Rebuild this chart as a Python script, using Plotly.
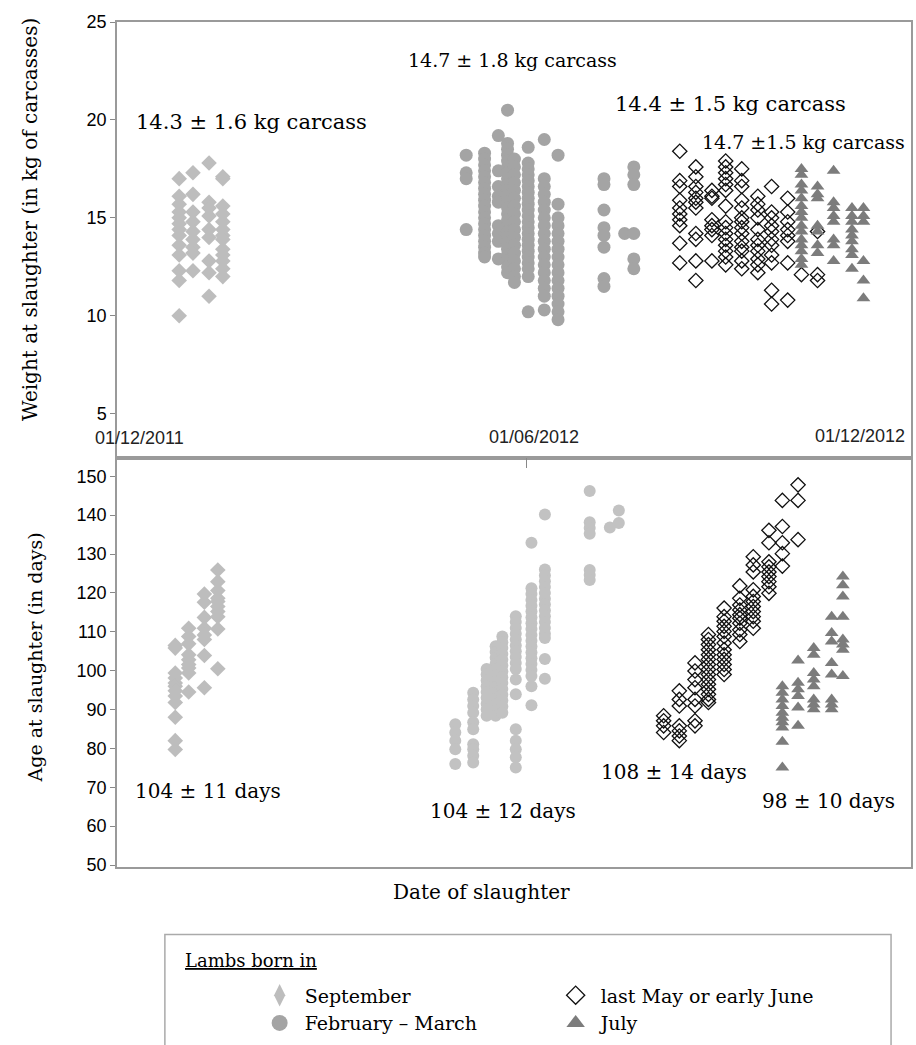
import plotly.graph_objects as go

# ---------------- data ----------------
group_names = ["September", "February – March", "last May or early June", "July"]

sep_dates = ["2011-12-27", "2012-01-02", "2012-01-09", "2012-01-15"]
sep_weight = [
    [17.0, 16.1, 15.7, 15.3, 15.0, 14.7, 14.4, 14.1, 13.6, 13.1, 12.3, 11.8, 10.0],
    [17.3, 16.2, 15.3, 14.8, 14.3, 13.9, 13.5, 13.2, 12.3],
    [17.8, 15.8, 15.5, 15.1, 14.4, 14.0, 12.8, 12.2, 11.0],
    [17.1, 17.0, 15.6, 15.2, 14.8, 14.4, 14.1, 13.9, 13.4, 13.1, 12.8, 12.4, 12.0],
]
sep_age = [
    [106.5, 105.8, 99.4, 98.1, 96.8, 96.0, 94.8, 93.5, 91.8, 88.0, 82.0, 79.7],
    [110.9, 108.8, 106.9, 104.1, 102.8, 101.6, 100.7, 99.4, 94.5],
    [119.7, 117.6, 113.7, 110.9, 109.2, 108.0, 103.9, 95.6],
    [125.9, 122.9, 120.6, 118.6, 117.8, 116.5, 115.2, 113.9, 110.7, 100.5],
]

feb_dates = ["2012-04-30", "2012-05-08", "2012-05-14", "2012-05-18", "2012-05-21", "2012-05-27",
             "2012-06-03", "2012-06-09", "2012-06-29", "2012-07-08", "2012-07-12"]
feb_weight = [
    [18.2, 17.3, 17.0, 14.4],
    [18.3, 18.0, 17.7, 17.4, 17.1, 16.8, 16.5, 16.2, 15.9, 15.6, 15.3, 15.0, 14.7, 14.4, 14.1, 13.8, 13.5, 13.2, 13.0],
    [19.2, 17.4, 16.6, 16.1, 15.8, 14.6, 14.2, 13.8, 12.9],
    [20.5, 18.8, 18.5, 18.2, 17.9, 17.6, 17.3, 17.0, 16.7, 16.4, 16.1, 15.8, 15.5, 15.2, 14.9, 14.6, 14.3, 14.0, 13.7, 13.4, 13.1, 12.8, 12.5, 12.2],
    [18.0, 17.6, 17.2, 16.8, 16.4, 16.0, 15.6, 15.2, 14.8, 14.4, 14.0, 13.6, 13.2, 12.8, 12.4, 12.0, 11.7],
    [18.6, 17.8, 17.5, 17.2, 16.9, 16.6, 16.3, 16.0, 15.7, 15.4, 15.1, 14.8, 14.5, 14.2, 13.9, 13.6, 13.3, 13.0, 12.7, 12.4, 12.0, 10.2],
    [19.0, 17.0, 16.6, 16.2, 15.8, 15.4, 15.0, 14.6, 14.2, 13.8, 13.4, 13.0, 12.6, 12.2, 11.8, 11.4, 11.0, 10.3],
    [18.2, 15.7, 15.0, 14.6, 14.2, 13.8, 13.4, 13.0, 12.6, 12.2, 11.8, 11.4, 11.0, 10.6, 10.2, 9.8],
    [17.0, 16.7, 15.4, 14.5, 14.1, 13.5, 11.9, 11.5],
    [14.2],
    [17.6, 17.2, 16.7, 14.2, 12.9, 12.4],
]
feb_age = [
    [86.2, 84.1, 82.0, 79.8, 76.0],
    [94.3, 92.6, 90.9, 89.2, 86.7, 84.9, 81.1, 79.8, 78.1, 76.4],
    [100.4, 99.0, 97.5, 96.0, 94.5, 93.0, 91.5, 90.0, 88.4],
    [106.3, 104.8, 103.3, 101.8, 100.3, 98.8, 97.3, 95.8, 94.3, 92.8, 91.3, 89.8, 88.4],
    [108.8, 107.3, 105.8, 104.3, 102.8, 101.3, 99.8, 98.3, 96.8, 95.3, 93.8, 92.3, 90.8, 89.2],
    [114.0, 112.5, 111.0, 109.5, 108.0, 106.5, 105.0, 103.5, 102.0, 100.4, 97.7, 93.9, 84.9, 82.0, 79.8, 77.7, 75.1],
    [132.9, 121.2, 119.7, 118.2, 116.7, 115.2, 113.7, 112.2, 110.7, 109.2, 107.7, 106.2, 104.7, 103.2, 101.7, 100.2, 98.6, 96.0, 91.1],
    [140.2, 126.0, 124.5, 123.0, 121.5, 120.0, 118.5, 117.0, 115.5, 114.0, 112.5, 111.0, 109.5, 108.4, 103.0, 97.9],
    [146.2, 138.2, 136.7, 135.2, 125.9, 124.6, 123.3],
    [136.8],
    [141.2, 138.0],
]

may_dates = ["2012-08-01", "2012-08-08", "2012-08-15", "2012-08-21", "2012-08-28",
             "2012-09-04", "2012-09-10", "2012-09-17", "2012-09-23", "2012-09-30"]
may_weight = [
    [18.4, 16.9, 16.6, 15.9, 15.5, 15.2, 14.9, 14.6, 13.7, 12.7],
    [17.6, 17.1, 16.6, 16.3, 16.0, 15.8, 15.5, 14.2, 13.9, 12.8, 11.8],
    [16.4, 16.1, 16.0, 14.9, 14.6, 14.4, 14.1, 12.8],
    [17.9, 17.6, 17.3, 17.0, 16.7, 16.4, 15.6, 14.8, 14.5, 14.2, 13.9, 13.6, 13.3, 13.0, 12.6],
    [17.5, 16.9, 16.6, 15.9, 15.5, 15.0, 14.8, 14.5, 14.2, 13.8, 13.5, 13.3, 12.8, 12.4],
    [16.1, 15.7, 15.4, 15.0, 14.4, 13.9, 13.6, 13.3, 12.9, 12.6, 12.2],
    [16.6, 15.3, 15.0, 14.6, 14.3, 13.9, 13.6, 13.1, 12.7, 11.3, 10.6],
    [16.0, 15.3, 14.8, 14.4, 14.1, 13.8, 12.7, 10.8],
    [12.1],
    [14.3, 12.1, 11.8],
]
may_age = [
    [88.4, 87.1, 85.8, 84.1],
    [94.8, 92.6, 90.9, 85.8, 84.5, 83.2, 82.0],
    [102.0, 99.9, 97.7, 95.6, 92.6, 90.9, 87.1, 85.8],
    [109.3, 108.0, 106.7, 105.4, 104.1, 102.9, 101.6, 100.3, 99.0, 97.7, 96.5, 95.2, 93.9, 92.6, 91.8],
    [116.1, 113.9, 112.7, 111.4, 110.1, 108.8, 107.1, 105.4, 104.1, 102.9, 101.6, 100.3, 99.0],
    [121.8, 118.6, 116.9, 115.6, 114.4, 113.5, 112.2, 110.5, 109.3, 107.5],
    [129.3, 127.2, 125.4, 120.8, 119.1, 117.8, 116.5, 115.2, 113.9, 112.7, 110.9],
    [136.1, 132.9, 128.0, 126.7, 125.4, 124.2, 122.9, 121.6, 119.9],
    [143.8, 137.1, 132.9, 130.1, 126.9],
    [147.8, 143.8, 133.7],
]

jul_dates = ["2012-09-23", "2012-09-30", "2012-10-07", "2012-10-15", "2012-10-20"]
jul_weight = [
    [17.5, 17.2, 16.7, 16.4, 16.0, 15.6, 15.3, 15.0, 14.6, 14.3, 13.9, 13.6, 13.3, 12.9, 12.6],
    [16.6, 16.2, 16.0, 14.6, 14.3, 13.6, 13.2],
    [17.4, 15.8, 15.5, 15.1, 14.8, 13.9, 13.6, 12.8],
    [15.5, 15.1, 14.8, 14.4, 14.1, 13.8, 13.4, 13.1, 12.4],
    [15.5, 15.1, 14.8, 12.8, 11.8, 10.9],
]
jul_age = [
    [96.0, 94.3, 92.6, 90.9, 89.2, 87.9, 86.7, 85.4, 81.7, 75.1],
    [102.6, 96.9, 95.2, 93.5, 90.5, 85.8],
    [105.8, 104.1, 99.4, 97.7, 96.0, 92.6, 91.3, 90.1],
    [113.9, 109.7, 107.5, 102.0, 99.0, 92.6, 91.3, 90.1],
    [124.2, 122.0, 119.1, 113.9, 108.0, 106.7, 105.4, 98.6],
]

weight_labels = ["14.3 ± 1.6 kg carcass", "14.7 ± 1.8 kg carcass",
                 "14.4 ± 1.5 kg carcass", "14.7 ±1.5 kg carcass"]
age_labels = ["104 ± 11 days", "104 ± 12 days", "108 ± 14 days", "98 ± 10 days"]
date_tick_labels = ["01/12/2011", "01/06/2012", "01/12/2012"]
weight_ticks = [5, 10, 15, 20, 25]
age_ticks = [50, 60, 70, 80, 90, 100, 110, 120, 130, 140, 150]

# ---------------- layout helpers (pixels -> paper) ----------------
W, H = 916, 1045
L, R, T, B = 117, 3, 22, 173
PW, PH = W - L - R, H - T - B


def fx(px):
    return (px - L) / PW


def fy(py):
    return (H - B - py) / PH


def flat(dates, groups):
    xs, ys = [], []
    for d, vals in zip(dates, groups):
        for v in vals:
            xs.append(d)
            ys.append(v)
    return xs, ys


SERIF = "DejaVu Serif"
SANS = "Liberation Sans"

styles = {
    "sep": dict(symbol="diamond", size=12, color="#bdbdbd"),
    "feb_top": dict(symbol="circle", size=13, color="#a4a4a4"),
    "feb_bot": dict(symbol="circle", size=12, color="#c2c2c2"),
    "may": dict(symbol="diamond-open", size=11, color="#111111", line=dict(width=1.3, color="#111111")),
    "jul": dict(symbol="triangle-up", size=12, color="#7c7c7c"),
}
legend_styles = {
    "sep": dict(symbol="diamond-tall", size=16, color="#bdbdbd"),
    "feb_top": dict(symbol="circle", size=16, color="#a4a4a4"),
    "may": dict(symbol="diamond-open", size=14, color="#111111", line=dict(width=1.3, color="#111111")),
    "jul": dict(symbol="triangle-up", size=16, color="#7c7c7c"),
}

fig = go.Figure()

series = [
    ("sep", "sep", sep_dates, sep_weight, sep_age, group_names[0], 1),
    ("feb_top", "feb_bot", feb_dates, feb_weight, feb_age, group_names[1], 3),
    ("may", "may", may_dates, may_weight, may_age, group_names[2], 2),
    ("jul", "jul", jul_dates, jul_weight, jul_age, group_names[3], 4),
]
for st_top, st_bot, dates, wts, ages, name, rank in series:
    x, y = flat(dates, wts)
    fig.add_trace(go.Scatter(x=x, y=y, mode="markers", marker=styles[st_top], name=name,
                             legendgroup=name, xaxis="x", yaxis="y", showlegend=False))
    x2, y2 = flat(dates, ages)
    fig.add_trace(go.Scatter(x=x2, y=y2, mode="markers", marker=styles[st_bot], name=name,
                             legendgroup=name, xaxis="x2", yaxis="y2", showlegend=False))
    # legend entry only (larger symbol, as in the printed key)
    fig.add_trace(go.Scatter(x=[None], y=[None], mode="markers", marker=legend_styles[st_top],
                             name=name, legendgroup=name, legendrank=rank,
                             xaxis="x", yaxis="y", showlegend=True))

split = fy(461)
axis_line = dict(showline=True, linecolor="#9a9a9a", linewidth=1.5, mirror=True,
                 showgrid=False, zeroline=False)

fig.update_layout(
    width=W, height=H,
    margin=dict(l=L, r=R, t=T, b=B),
    paper_bgcolor="white", plot_bgcolor="white",
    showlegend=True,
    xaxis=dict(type="date", domain=[0, 1], anchor="y",
               range=["2011-11-29 22:00", "2012-11-09 17:00"],
               showticklabels=False, ticks="", **axis_line),
    yaxis=dict(domain=[split, 1], anchor="x", range=[2.716, 25],
               tickvals=weight_ticks, ticks="outside", ticklen=5, tickcolor="#888",
               tickfont=dict(family=SANS, size=18, color="black"),
               **axis_line),
    xaxis2=dict(type="date", domain=[0, 1], anchor="y2", side="top",
                range=["2011-12-01", "2012-11-19 10:00"],
                tickvals=["2012-06-01"], ticks="inside", ticklen=10, tickcolor="#888",
                tickwidth=1.2, showticklabels=False, **axis_line),
    yaxis2=dict(domain=[0, split], anchor="x2", range=[49.49, 154.6],
                tickvals=age_ticks, ticks="outside", ticklen=5, tickcolor="#888",
                tickfont=dict(family=SANS, size=18, color="black"),
                **axis_line),
    legend=dict(orientation="h", x=fx(255), y=fy(982), xanchor="left", yanchor="top",
                entrywidth=241, entrywidthmode="pixels", itemsizing="trace", itemwidth=40,
                font=dict(family=SERIF, size=19, color="black"),
                bgcolor="rgba(0,0,0,0)", tracegroupgap=0),
)

annotations = []


def note(text, px, py, size, family=SERIF, color="black", xanchor="center", angle=0):
    annotations.append(dict(text=text, x=fx(px), y=fy(py), xref="paper", yref="paper",
                            xanchor=xanchor, yanchor="middle", showarrow=False, textangle=angle,
                            font=dict(family=family, size=size, color=color)))


for text, (px, py), sz in zip(weight_labels, [(252, 123), (513, 60), (732, 104), (805, 143)],
                              [21, 19, 21, 19]):
    note(text, px, py, sz)
for text, (px, py) in zip(age_labels, [(208, 796), (504, 816), (675, 776), (830, 806)]):
    note(text, px, py, 20)
for text, (px, py) in zip(date_tick_labels, [(140, 440), (535, 439), (862, 438)]):
    note(text, px, py, 18, family=SANS, color="#222")
note("Weight at slaughter (in kg of carcasses)", 30, 221, 20, angle=-90)
note("Age at slaughter (in days)", 35, 661, 19, angle=-90)
note("Date of slaughter", 482, 897, 20)
note("<u>Lambs born in</u>", 183, 966, 18, xanchor="left")
fig.update_layout(annotations=annotations)

fig.add_shape(type="rect", xref="paper", yref="paper", x0=fx(165), x1=fx(893), y0=fy(940), y1=fy(1070),
              line=dict(color="#aaaaaa", width=1.5), fillcolor="rgba(0,0,0,0)")

fig.write_html("out.html", config={"displayModeBar": False},
               post_script="document.body.style.margin='0';")
